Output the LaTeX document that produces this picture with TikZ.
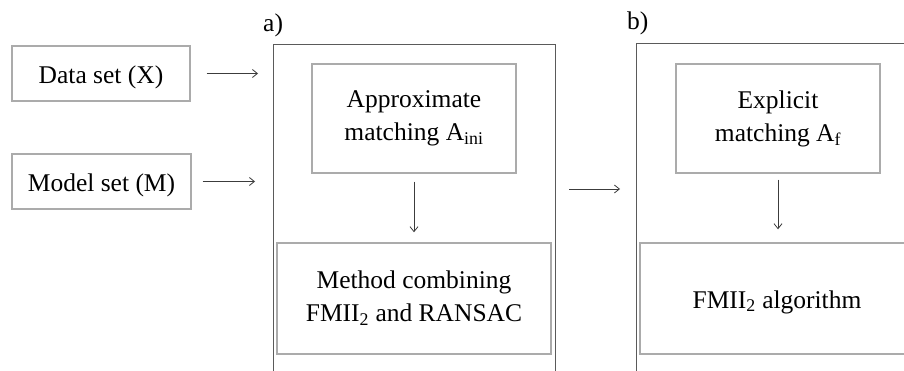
\documentclass[tikz,border=0pt]{standalone}
\usepackage{fontspec}
\setmainfont{Liberation Serif}
\usetikzlibrary{arrows.meta}
\definecolor{framegray}{HTML}{5A5A5A}
\definecolor{boxgray}{HTML}{ABABAB}
\definecolor{arrowgray}{HTML}{3C3C3C}

\begin{document}
\begin{tikzpicture}[x=1pt,y=-1pt,
		txt/.style={font=\fontsize{25.5}{33}\selectfont, align=center, inner sep=0pt},
		box/.style={txt, draw=boxgray, line width=1.4pt, execute at begin node={\rule{0pt}{25pt}}},
		frame/.style={draw=framegray, line width=1.1pt, anchor=north west,
			minimum width=282pt, minimum height=400pt, inner sep=0pt},
		link/.style={draw=arrowgray, line width=0.8pt, -{Straight Barb[length=5pt,width=8pt]}}]

		\useasboundingbox (0,0) rectangle (904,371);
		\clip (0,0) rectangle (904,371);

		\node[frame] (fa) at (273,44) {};
		\node[frame] (fb) at (636,43) {};

		\node[txt, anchor=base west] (la) at (263,32) {a)};
		\node[txt, anchor=base west] (lb) at (627,30) {b)};

		\node[box, minimum width=178pt, minimum height=55pt] (data)  at (101,73.5)  {Data set (X)};
		\node[box, minimum width=179pt, minimum height=55pt] (model) at (101.5,181.5) {Model set (M)};

		\node[box, minimum width=204pt, minimum height=109pt] (approx) at (414,118.5)
			{Approximate\\matching A\textsubscript{ini}};
		\node[box, minimum width=274pt, minimum height=111pt] (method) at (414,298.5)
			{Method combining\\FMII\textsubscript{2} and RANSAC};

		\node[box, minimum width=204pt, minimum height=109pt] (explicit) at (778,118.5)
			{Explicit\\matching A\textsubscript{f}};
		\node[box, minimum width=274pt, minimum height=111pt] (fmii) at (777,298.5)
			{FMII\textsubscript{2} algorithm};

		\draw[link, shorten <=16pt, shorten >=15pt] (data.east) -- (data.east -| fa.west);
		\draw[link, shorten <=11pt, shorten >=18pt] (model.east) -- (model.east -| fa.west);
		\draw[link, shorten <=13pt, shorten >=16pt] ([yshift=-145pt]fa.north east) coordinate (ab) -- (ab -| fb.west);
		\draw[link, shorten <=8pt, shorten >=10pt] (approx.south) -- (method.north);
		\draw[link, shorten <=6pt, shorten >=13pt] (explicit.south) -- (explicit.south |- fmii.north);

	\end{tikzpicture}
\end{document}
